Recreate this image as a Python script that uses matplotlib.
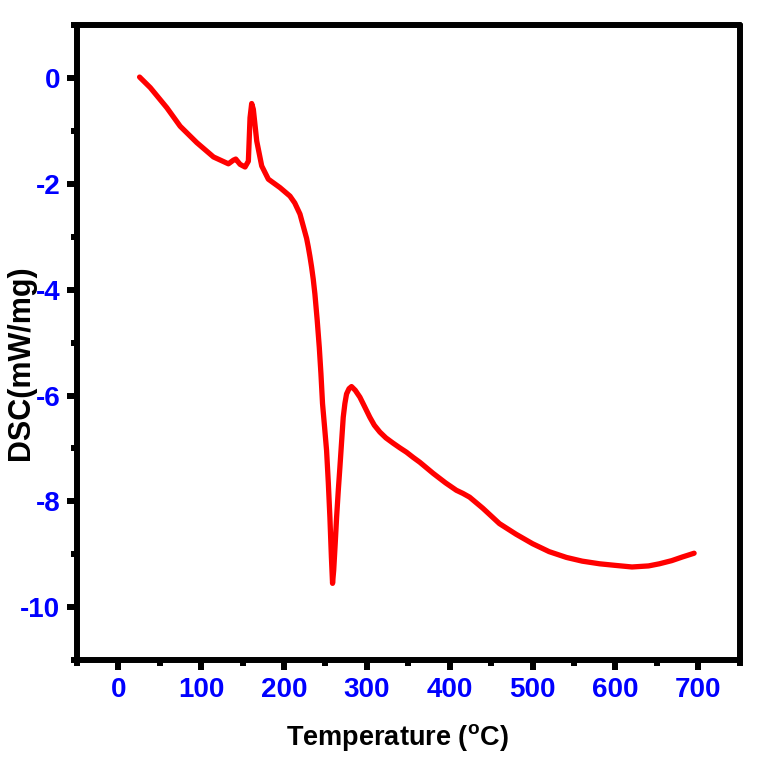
import matplotlib
matplotlib.use("Agg")
import matplotlib.pyplot as plt
from matplotlib.ticker import MultipleLocator

temperature = [25.7, 38.6, 58.6, 74.7, 94.8, 114.9, 132.9, 139, 141.8, 147, 153, 157, 159, 161, 163, 167.1, 173.1, 181.1,
               195.2, 207.2, 213, 219.3, 223.3, 227.3, 229.3, 231.3, 233.3, 235.3, 237.3, 240.1, 242.6, 244.6, 246.5,
               249, 251.4, 253.5, 255.4, 257.2, 258.6, 260, 261.8, 263.5, 265.5, 267.5, 269.5, 271.5, 273.5, 275.5,
               278.5, 281.5, 286, 291.6, 297, 303.6, 309, 315.7, 323, 331.7, 340, 347.8, 356, 363.9, 380, 395, 408,
               416, 424, 440, 460, 480, 500, 520, 541, 560, 581, 600, 620, 640, 653, 668, 681, 695]
dsc = [0.02, -0.18, -0.56, -0.91, -1.22, -1.49, -1.62, -1.55, -1.53, -1.63, -1.68, -1.57, -0.75, -0.48, -0.59, -1.19,
       -1.66, -1.91, -2.07, -2.23, -2.36, -2.57, -2.8, -3.03, -3.19, -3.37, -3.57, -3.8, -4.08, -4.58, -5.09, -5.59,
       -6.15, -6.6, -7.04, -7.65, -8.3, -9.05, -9.55, -9.3, -8.8, -8.3, -7.8, -7.35, -6.88, -6.41, -6.15, -5.97,
       -5.87, -5.83, -5.9, -6.03, -6.2, -6.41, -6.56, -6.69, -6.8, -6.9, -6.99, -7.07, -7.17, -7.26, -7.47, -7.65,
       -7.79, -7.85, -7.92, -8.13, -8.42, -8.62, -8.8, -8.95, -9.06, -9.13, -9.18, -9.21, -9.24, -9.22, -9.18,
       -9.12, -9.05, -8.98]

x_ticks = [0, 100, 200, 300, 400, 500, 600, 700]
y_ticks = [0, -2, -4, -6, -8, -10]

plt.rcParams['font.family'] = ['Liberation Sans', 'DejaVu Sans']
plt.rcParams['axes.unicode_minus'] = False

fig = plt.figure(figsize=(7.61, 7.64), dpi=100)
ax = fig.add_axes([0.101, 0.136, 0.871, 0.831])
ax.plot(temperature, dsc, color='#ff0000', lw=3.8, solid_capstyle='round', solid_joinstyle='round')

ax.set_xlim(-50, 750)
ax.set_ylim(-11, 1)
ax.set_xticks(x_ticks)
ax.set_yticks(y_ticks)
ax.xaxis.set_minor_locator(MultipleLocator(50))
ax.yaxis.set_minor_locator(MultipleLocator(1))

for s in ax.spines.values():
    s.set_linewidth(4.3)
    s.set_capstyle('round')

ax.tick_params(axis='both', which='major', direction='out', length=7, width=4.3,
               labelsize=20, labelcolor='#0000ff', top=False, right=False, pad=5)
ax.tick_params(axis='both', which='minor', direction='out', length=4, width=4.3,
               top=False, right=False)
for lab in ax.get_xticklabels() + ax.get_yticklabels():
    lab.set_fontweight('bold')
for ln in (ax.xaxis.get_ticklines(minor=True) + ax.yaxis.get_ticklines(minor=True)
           + ax.xaxis.get_ticklines() + ax.yaxis.get_ticklines()):
    ln.set_solid_capstyle('round')

ax.set_xlabel('Temperature ($\\mathregular{^{o}}$C)', fontsize=19.5, fontweight='bold')
ax.set_ylabel('DSC(mW/mg)', fontsize=22, fontweight='bold')
ax.xaxis.set_label_coords(0.483, -0.097)
ax.yaxis.set_label_coords(-0.062, 0.468)

fig.savefig('out.png', dpi=100, facecolor='white')
